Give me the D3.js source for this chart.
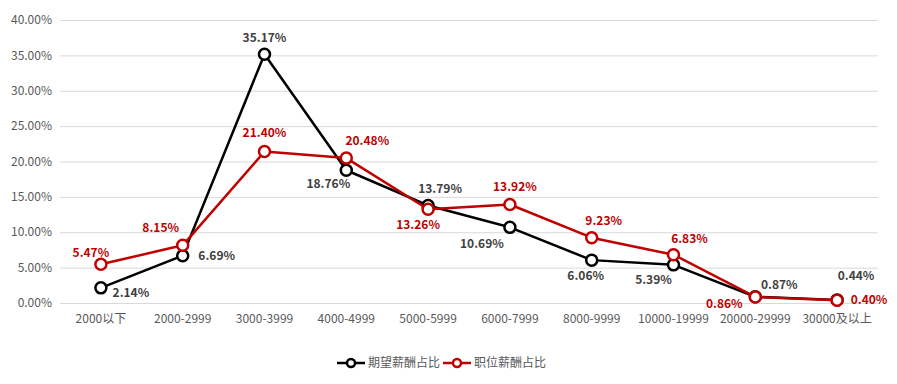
<!DOCTYPE html>
<html><head><meta charset="utf-8">
<script src="https://cdn.jsdelivr.net/npm/d3@7"></script>
<style>body{margin:0;background:#fff}svg{display:block;font-family:"Microsoft YaHei","Noto Sans CJK SC",sans-serif}</style>
</head><body><svg id="c" width="897" height="384"></svg>
<script>
const categories = ["2000以下","2000-2999","3000-3999","4000-4999","5000-5999","6000-7999","8000-9999","10000-19999","20000-29999","30000及以上"];
const expected = [2.14, 6.69, 35.17, 18.76, 13.79, 10.69, 6.06, 5.39, 0.87, 0.44];
const position = [5.47, 8.15, 21.40, 20.48, 13.26, 13.92, 9.23, 6.83, 0.86, 0.40];
const yTicks = [0, 5, 10, 15, 20, 25, 30, 35, 40];
const seriesNames = ["期望薪酬占比", "职位薪酬占比"];
// label offsets (dx, dy of label centre relative to point)
const expOff = [[30,5],[34,0],[0,-16],[-18,14],[12,-17],[-28,16],[-6,16],[-20,15],[24,-12],[19,-24]];
const posOff = [[-10,-11],[-22,-18],[0,-19],[21,-17],[-10,16],[5,-18],[12,-17],[16,-16],[-31,7],[32,0]];

const svg = d3.select("#c");
const x = d3.scaleBand().domain(categories).range([60, 878]);
const y = d3.scaleLinear().domain([0, 40]).range([303, 20]);
const cx = d => x(d) + x.bandwidth()/2;

svg.append("g").selectAll("line").data(yTicks).join("line")
  .attr("x1", 60).attr("x2", 878).attr("y1", d => y(d)+0.5).attr("y2", d => y(d)+0.5)
  .attr("stroke", "#d9d9d9").attr("stroke-width", 1);
svg.append("g").selectAll("text").data(yTicks).join("text")
  .attr("x", 52).attr("y", d => y(d)).attr("dy", "0.35em").attr("text-anchor", "end")
  .attr("font-size", 12).attr("fill", "#595959").text(d => d.toFixed(2) + "%");
svg.append("g").selectAll("text").data(categories).join("text")
  .attr("x", d => cx(d)).attr("y", 323).attr("text-anchor", "middle")
  .attr("font-size", 12).attr("fill", "#595959").text(d => d);

function drawSeries(vals, color, labelColor, offs) {
  const line = d3.line().x((d,i) => cx(categories[i])).y(d => y(d));
  svg.append("path").datum(vals).attr("d", line).attr("fill", "none")
    .attr("stroke", color).attr("stroke-width", 2.5).attr("stroke-linejoin", "round");
  svg.append("g").selectAll("circle").data(vals).join("circle")
    .attr("cx", (d,i) => cx(categories[i])).attr("cy", d => y(d)).attr("r", 5.5)
    .attr("fill", "#fff").attr("stroke", color).attr("stroke-width", 2.5);
  svg.append("g").selectAll("text").data(vals).join("text")
    .attr("x", (d,i) => cx(categories[i]) + offs[i][0]).attr("y", (d,i) => y(d) + offs[i][1])
    .attr("dy", "0.35em").attr("text-anchor", "middle").attr("font-size", 12).attr("font-weight", "bold")
    .attr("fill", labelColor).text(d => d.toFixed(2) + "%");
}
drawSeries(expected, "#000000", "#404040", expOff);
drawSeries(position, "#c00000", "#c00000", posOff);

const legend = [{name: seriesNames[0], color: "#000", x: 337}, {name: seriesNames[1], color: "#c00000", x: 443}];
const lg = svg.append("g").selectAll("g").data(legend).join("g").attr("transform", d => `translate(${d.x},363)`);
lg.append("line").attr("x1", 0).attr("x2", 28).attr("stroke", d => d.color).attr("stroke-width", 2.5);
lg.append("circle").attr("cx", 14).attr("r", 4).attr("fill", "#fff").attr("stroke", d => d.color).attr("stroke-width", 2.5);
lg.append("text").attr("x", 31).attr("dy", "0.35em").attr("font-size", 12).attr("fill", "#595959").text(d => d.name);
</script></body></html>
